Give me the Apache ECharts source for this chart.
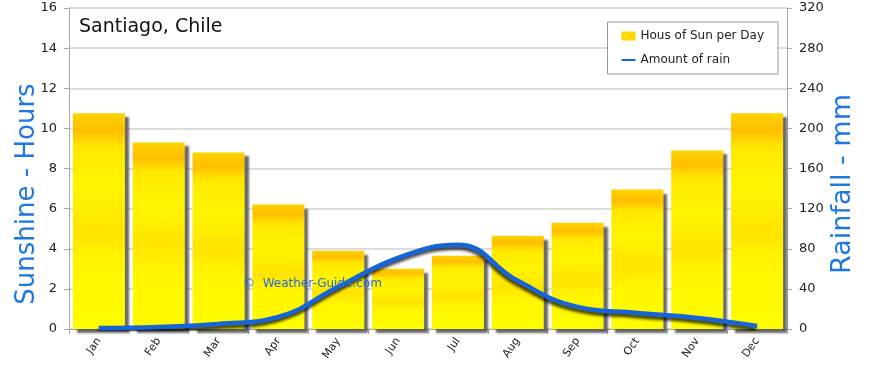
<!DOCTYPE html>
<html><head><meta charset="utf-8">
<script src="https://cdn.jsdelivr.net/npm/echarts@6/dist/echarts.min.js"></script>
<style>html,body{margin:0;padding:0;background:#fff}#c{width:870px;height:368px}</style>
</head><body><div id="c"></div>
<script>
const months = ['Jan','Feb','Mar','Apr','May','Jun','Jul','Aug','Sep','Oct','Nov','Dec'];
const sunHours = [10.75, 9.3, 8.8, 6.2, 3.9, 3.0, 3.65, 4.65, 5.3, 6.95, 8.9, 10.75];
const rainMm = [1, 2, 5, 12, 42, 71, 84, 48, 22, 16, 11, 3];
const leftTicks = [0, 16, 2];
const rightTicks = [0, 320, 40];

const font = 'DejaVu Sans';
const chart = echarts.init(document.getElementById('c'));
chart.setOption({
  animation: false,
  textStyle: {fontFamily: font},
  grid: {left: 69, right: 83, top: 8, bottom: 39},
  legend: {
    right: 92, top: 22, orient: 'vertical', backgroundColor: '#fff',
    borderColor: '#999', borderWidth: 1, padding: [8, 14, 8, 14], itemGap: 12,
    textStyle: {fontSize: 12, color: '#222', fontFamily: font},
    data: [
      {name: 'Hous of Sun per Day', icon: 'rect', itemStyle: {color: '#FFD800'}},
      {name: 'Amount of rain', icon: 'path://M0,0 L20,0 L20,3 L0,3 Z', itemStyle: {color: '#1565D8'}}
    ],
    itemWidth: 14, itemHeight: 9
  },
  xAxis: {
    type: 'category', data: months, boundaryGap: true,
    axisLine: {lineStyle: {color: '#aaa'}},
    axisTick: {show: true, length: 5, lineStyle: {color: '#aaa'}},
    axisLabel: {rotate: 55, fontSize: 11, color: '#222', margin: 10}
  },
  yAxis: [
    {type: 'value', min: leftTicks[0], max: leftTicks[1], interval: leftTicks[2],
     axisLine: {show: true, lineStyle: {color: '#aaa'}},
     axisTick: {show: true, length: 5, lineStyle: {color: '#aaa'}},
     axisLabel: {fontSize: 13, color: '#222', margin: 12},
     splitLine: {lineStyle: {color: '#d0d0d0', width: 1.5}}},
    {type: 'value', min: rightTicks[0], max: rightTicks[1], interval: rightTicks[2],
     axisLine: {show: true, lineStyle: {color: '#aaa'}},
     axisTick: {show: true, length: 5, lineStyle: {color: '#aaa'}},
     axisLabel: {fontSize: 13, color: '#222', margin: 12},
     splitLine: {show: false}}
  ],
  graphic: [
    {type: 'text', left: 79, top: 18, style: {text: 'Santiago, Chile', fontSize: 19, fill: '#111', fontFamily: font}},
    {type: 'text', x: 27, y: 194, rotation: Math.PI/2, style: {text: 'Sunshine - Hours', fontSize: 26, fill: '#1E78E0', fontFamily: font, align: 'center', verticalAlign: 'middle'}},
    {type: 'text', x: 843, y: 184, rotation: Math.PI/2, style: {text: 'Rainfall - mm', fontSize: 27, fill: '#1E78E0', fontFamily: font, align: 'center', verticalAlign: 'middle'}},
    {type: 'text', left: 243, top: 278, z: 10, style: {text: '©  Weather-Guide.com', fontSize: 12, fill: '#2a6ad0', fontFamily: font}}
  ],
  series: [
    {name: 'Hous of Sun per Day', type: 'bar', data: sunHours, barCategoryGap: '13%',
     itemStyle: {
       color: new echarts.graphic.LinearGradient(0, 0, 0, 1, [
         {offset: 0, color: '#FFD400'}, {offset: 0.08, color: '#FFBE00'},
         {offset: 0.16, color: '#FFE800'}, {offset: 0.35, color: '#FFF500'},
         {offset: 0.55, color: '#FFE400'}, {offset: 0.7, color: '#FFF600'},
         {offset: 1, color: '#FFFC00'}]),
       shadowColor: 'rgba(80,80,80,0.85)', shadowOffsetX: 4, shadowOffsetY: 4, shadowBlur: 2
     }},
    {name: 'Amount of rain', type: 'line', yAxisIndex: 1, data: rainMm, smooth: 0.45,
     symbol: 'none', z: 5,
     lineStyle: {color: '#1565D8', width: 4.5, shadowColor: 'rgba(0,0,0,0.75)', shadowOffsetY: 3, shadowOffsetX: -1, shadowBlur: 3}}
  ]
});
</script></body></html>
